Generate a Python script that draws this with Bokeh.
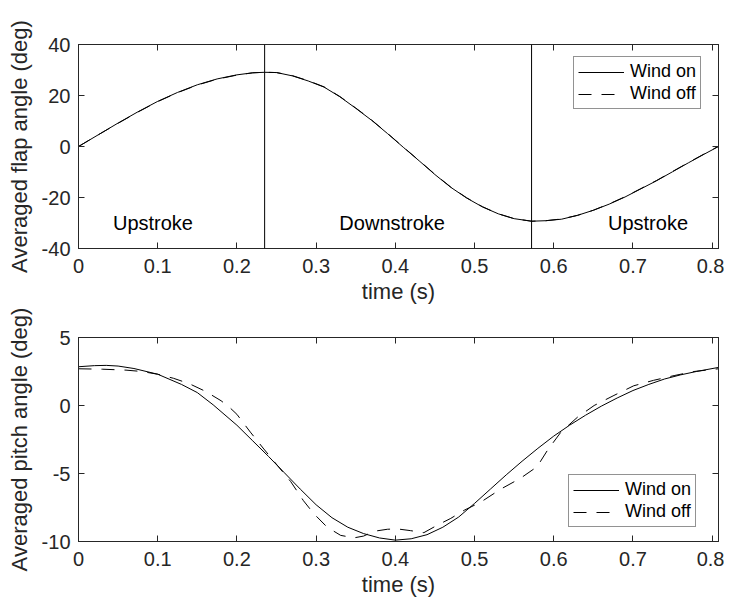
from bokeh.plotting import figure
from bokeh.layouts import column
from bokeh.models import Range1d, LinearAxis, Span, Legend, LegendItem, FixedTicker
from bokeh.core.properties import value
from bokeh.embed import file_html
from bokeh.resources import INLINE

# ---------------- data ----------------
flap_t = [0, 0.025, 0.05, 0.075, 0.1, 0.125, 0.15, 0.175, 0.2, 0.22, 0.235, 0.25,
          0.27, 0.29, 0.31, 0.33, 0.35, 0.37, 0.39, 0.41, 0.43, 0.45, 0.47, 0.49,
          0.51, 0.53, 0.55, 0.572, 0.59, 0.61, 0.63, 0.65, 0.67, 0.69, 0.71, 0.73,
          0.75, 0.77, 0.79, 0.808]
flap_on = [0, 4.6, 9.2, 13.6, 17.7, 21.2, 24.2, 26.5, 28.1, 28.9, 29.1, 29.0,
           27.7, 25.7, 23.3, 19.5, 15.0, 10.3, 5.1, -0.3, -5.6, -11.0, -16.0, -20.2,
           -23.7, -26.4, -28.3, -29.3, -29.1, -28.5, -27.0, -25.0, -22.6, -19.8, -16.6, -13.4,
           -9.9, -6.4, -3.0, 0.0]
flap_off = [0, 4.6, 9.1, 13.5, 17.6, 21.1, 24.1, 26.4, 28.0, 28.9, 29.1, 29.0,
            27.8, 25.8, 23.4, 19.6, 15.1, 10.4, 5.2, -0.2, -5.5, -10.9, -15.9, -20.1,
            -23.6, -26.4, -28.3, -29.3, -29.1, -28.4, -27.0, -25.0, -22.5, -19.7, -16.5, -13.3,
            -9.8, -6.3, -2.9, 0.1]

pitch_on_t = [0, 0.02, 0.035, 0.05, 0.07, 0.1, 0.13, 0.15, 0.17, 0.2, 0.22, 0.24,
              0.26, 0.28, 0.30, 0.32, 0.34, 0.36, 0.38, 0.40, 0.42, 0.44, 0.46, 0.48,
              0.50, 0.52, 0.54, 0.56, 0.58, 0.60, 0.62, 0.64, 0.66, 0.68, 0.70, 0.72,
              0.74, 0.76, 0.78, 0.808]
pitch_on = [2.85, 2.93, 2.95, 2.9, 2.72, 2.3, 1.55, 0.95, 0.05, -1.45, -2.6, -3.75,
            -4.95, -6.15, -7.3, -8.25, -8.95, -9.42, -9.74, -9.9, -9.8, -9.5, -8.95, -8.2,
            -7.2, -6.15, -5.1, -4.1, -3.15, -2.25, -1.45, -0.72, -0.05, 0.55, 1.1, 1.55,
            1.95, 2.25, 2.5, 2.8]

pitch_off_t = [0, 0.03, 0.06, 0.08, 0.1, 0.12, 0.14, 0.16, 0.18, 0.19, 0.2, 0.217,
               0.234, 0.251, 0.268, 0.284, 0.297, 0.314, 0.331, 0.348, 0.36, 0.373, 0.39,
               0.402, 0.419, 0.436, 0.453, 0.47, 0.487, 0.508, 0.533, 0.558, 0.579, 0.592,
               0.609, 0.63, 0.651, 0.676, 0.701, 0.726, 0.752, 0.777, 0.808]
pitch_off = [2.7, 2.67, 2.6, 2.5, 2.3, 2.0, 1.6, 1.05, 0.35, -0.1, -0.65, -1.96,
             -3.2, -4.4, -5.6, -7.0, -7.95, -8.95, -9.55, -9.73, -9.6, -9.25, -9.1,
             -9.07, -9.2, -9.35, -8.8, -8.3, -7.7, -7.1, -6.15, -5.35, -4.5, -3.3,
             -1.96, -0.86, 0.0, 0.74, 1.45, 1.85, 2.2, 2.5, 2.7]

stroke_times = [0.235, 0.572]
stroke_labels = ["Upstroke", "Downstroke", "Upstroke"]
stroke_label_x = [0.094, 0.396, 0.719]
stroke_label_y = [-30, -30, -30]

x_ticks = [0, 0.1, 0.2, 0.3, 0.4, 0.5, 0.6, 0.7, 0.8]
x_tick_labels = ["0", "0.1", "0.2", "0.3", "0.4", "0.5", "0.6", "0.7", "0.8"]
flap_ticks = [-40, -20, 0, 20, 40]
pitch_ticks = [-10, -5, 0, 5]
series_names = ["Wind on", "Wind off"]

FONT = "Liberation Sans"
AX = "#262626"
DASH = "13 10"


def style(p, yticks, ylabel):
    p.grid.visible = False
    p.outline_line_color = AX
    p.outline_line_width = 1
    p.xaxis.ticker = FixedTicker(ticks=x_ticks)
    p.xaxis.major_label_overrides = {t: l for t, l in zip(x_ticks, x_tick_labels)}
    p.yaxis.ticker = FixedTicker(ticks=yticks)
    p.yaxis.major_label_overrides = {t: str(t) for t in yticks}
    p.xaxis.axis_label = "time (s)"
    p.yaxis.axis_label = ylabel
    for ax in p.xaxis + p.yaxis:
        ax.major_tick_in = 6
        ax.major_tick_out = 0
        ax.minor_tick_line_color = None
        ax.axis_line_color = AX
        ax.major_tick_line_color = AX
        ax.major_label_text_font = FONT
        ax.major_label_text_font_size = "20px"
        ax.major_label_text_color = AX
        ax.axis_label_text_font = FONT
        ax.axis_label_text_font_size = "22px"
        ax.axis_label_text_font_style = "normal"
        ax.axis_label_text_color = AX
    p.xaxis.major_label_standoff = 10
    p.xaxis.axis_label_standoff = 3
    p.yaxis.major_label_standoff = 8
    p.yaxis.axis_label_standoff = 7
    # mirrored axes (ticks only, empty labels)
    for side, tks in (("right", yticks), ("above", x_ticks)):
        ax = LinearAxis(ticker=FixedTicker(ticks=tks))
        ax.major_label_overrides = {t: "" for t in tks}
        ax.major_tick_in = 6
        ax.major_tick_out = 0
        ax.minor_tick_line_color = None
        ax.axis_line_color = AX
        ax.major_tick_line_color = AX
        ax.major_label_standoff = 0
        p.add_layout(ax, side)


def add_legend(p, r_on, r_off, loc):
    leg = Legend(items=[LegendItem(label=series_names[0], renderers=[r_on]),
                        LegendItem(label=series_names[1], renderers=[r_off])],
                 location=loc)
    leg.border_line_color = AX
    leg.border_line_width = 1
    leg.background_fill_color = "white"
    leg.background_fill_alpha = 1
    leg.label_text_font = FONT
    leg.label_text_font_size = "18px"
    leg.label_text_color = "black"
    leg.glyph_width = 46
    leg.glyph_height = 18
    leg.label_height = 18
    leg.padding = 4
    leg.spacing = 1
    leg.label_standoff = 6
    leg.margin = 0
    p.add_layout(leg)


# ---------------- top figure ----------------
p1 = figure(width=724, height=306, x_range=Range1d(0, 0.808), y_range=Range1d(-40, 40),
            output_backend="svg", toolbar_location=None,
            min_border_left=78, min_border_right=6, min_border_top=44, min_border_bottom=58)
style(p1, flap_ticks, "Averaged flap angle (deg)")
for t in stroke_times:
    p1.add_layout(Span(location=t, dimension="height", line_color="black", line_width=1))
r1 = p1.line(flap_t, flap_on, line_color="black", line_width=1)
r2 = p1.line(flap_t, flap_off, line_color="black", line_width=1, line_dash=DASH)
p1.text(x=stroke_label_x, y=stroke_label_y, text=stroke_labels, text_align="center",
        text_baseline="middle", text_font=value(FONT), text_font_size="20px", text_color="black")
add_legend(p1, r1, r2, (495, 139))

# ---------------- bottom figure ----------------
p2 = figure(width=724, height=295, x_range=Range1d(0, 0.808), y_range=Range1d(-10, 5),
            output_backend="svg", toolbar_location=None,
            min_border_left=78, min_border_right=6, min_border_top=31, min_border_bottom=60)
style(p2, pitch_ticks, "Averaged pitch angle (deg)")
r3 = p2.line(pitch_on_t, pitch_on, line_color="black", line_width=1)
r4 = p2.line(pitch_off_t, pitch_off, line_color="black", line_width=1, line_dash=DASH)
add_legend(p2, r3, r4, (490, 14))

layout = column(p1, p2, spacing=0)
open("out.html", "w").write(file_html(layout, INLINE))
